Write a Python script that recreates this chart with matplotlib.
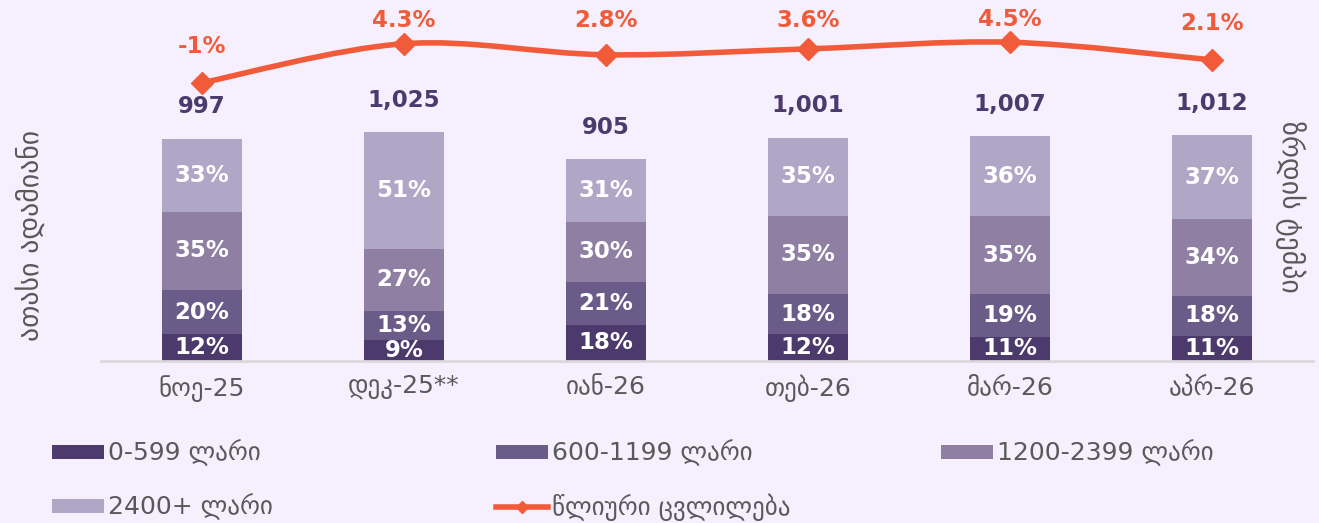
import numpy as np
import matplotlib
matplotlib.use("Agg")
import matplotlib.pyplot as plt
from matplotlib.path import Path
from matplotlib.patches import PathPatch, Patch
from matplotlib.lines import Line2D

months = ["ნოე-25", "დეკ-25**", "იან-26", "თებ-26", "მარ-26", "აპრ-26"]
totals = [997, 1025, 905, 1001, 1007, 1012]
growth = [-1.0, 4.3, 2.8, 3.6, 4.5, 2.1]
growth_labels = ["-1%", "4.3%", "2.8%", "3.6%", "4.5%", "2.1%"]
share_0_599 = [12, 9, 18, 12, 11, 11]
share_600_1199 = [20, 13, 21, 18, 19, 18]
share_1200_2399 = [35, 27, 30, 35, 35, 34]
share_2400 = [33, 51, 31, 35, 36, 37]
group_names = ["0-599 ლარი", "600-1199 ლარი", "1200-2399 ლარი", "2400+ ლარი"]
line_name = "წლიური ცვლილება"

bg = "#F5EFFE"
colors = ["#4B3A6B", "#6B5B88", "#8E7FA3", "#B0A6C6"]
orange = "#F15B3A"
grey = "#595959"

plt.rcParams["font.family"] = "DejaVu Sans"

W, H = 1319, 523
fig = plt.figure(figsize=(W / 100, H / 100), dpi=100, facecolor=bg)
ax = fig.add_axes([101 / W, 162 / H, 1212 / W, 346 / H])
ax.set_facecolor(bg)
x = np.arange(len(months))

shares = [share_0_599, share_600_1199, share_1200_2399, share_2400]
bottom = np.zeros(len(months))
for s, c in zip(shares, colors):
    h = np.array(totals) * np.array(s) / np.sum(shares, axis=0)
    ax.bar(x, h, bottom=bottom, width=0.4, color=c)
    for i in range(len(months)):
        ax.text(x[i], bottom[i] + h[i] / 2, f"{s[i]}%", ha="center", va="center",
                color="white", fontsize=16.5, fontweight="bold")
    bottom += h

for i, t in enumerate(totals):
    ax.annotate(f"{t:,}", (x[i], t), xytext=(0, 23), textcoords="offset points",
                ha="center", va="center", color="#4B3A6B", fontsize=16.5, fontweight="bold")

ax.set_xlim(-0.5, len(months) - 0.5)
ax.set_ylim(0, 1551)
ax.set_xticks(x)
ax.set_xticklabels(months, fontsize=18, color=grey)
ax.tick_params(axis="x", length=0, pad=10)
ax.set_yticks([])
for sp in ["top", "left", "right"]:
    ax.spines[sp].set_visible(False)
ax.spines["bottom"].set_color("#D9D9D9")
ax.spines["bottom"].set_linewidth(2)

ax2 = ax.twinx()
ax2.set_ylim(-38.8, 8.2)
ax2.set_yticks([])
for sp in ax2.spines.values():
    sp.set_visible(False)

# smooth line through the points (catmull-rom as bezier)
pts = np.column_stack([x, growth]).astype(float)
ext = np.vstack([pts[0], pts, pts[-1]])
verts = [tuple(pts[0])]
codes = [Path.MOVETO]
for i in range(len(pts) - 1):
    p0, p1, p2, p3 = ext[i], ext[i + 1], ext[i + 2], ext[i + 3]
    c1 = p1 + (p2 - p0) / 6
    c2 = p2 - (p3 - p1) / 6
    verts += [tuple(c1), tuple(c2), tuple(p2)]
    codes += [Path.CURVE4] * 3
ax2.add_patch(PathPatch(Path(verts, codes), fill=False, edgecolor=orange, lw=4, capstyle="round"))
ax2.plot(x, growth, ls="none", marker="D", ms=11, color=orange)

# labels sit above the markers but are kept inside the top of the chart
for i, g in enumerate(growth):
    ypix = ax2.transData.transform((x[i], g))[1]
    from_top = H - ypix
    off = min(36, from_top - 20) * 0.72
    ax2.annotate(growth_labels[i], (x[i], g), xytext=(0, off), textcoords="offset points",
                 ha="center", va="center", color=orange, fontsize=16.5, fontweight="bold",
                 annotation_clip=False)

fig.text(30 / W, 1 - 235 / H, "ათასი ადამიანი", rotation=90, ha="center", va="center",
         fontsize=20, color=grey)
fig.text(1290 / W, 1 - 207 / H, "ზრდის ტემპი", rotation=270, ha="center", va="center",
         fontsize=20, color=grey)

handles = [Patch(facecolor=c) for c in colors]
handles.append(Line2D([0], [0], color=orange, lw=4, marker="D", ms=6))
labels = group_names + [line_name]
pos = [(52, 453), (496, 453), (941, 453), (52, 507), (496, 507)]
for h, lab, (px, py) in zip(handles, labels, pos):
    fig.legend(handles=[h], labels=[lab], loc="center left",
               bbox_to_anchor=(px / W, 1 - py / H), frameon=False,
               borderpad=0, borderaxespad=0, handlelength=2.08, handleheight=0.48,
               handletextpad=0.16, fontsize=18, labelcolor=grey)

fig.savefig("out.png", dpi=100, facecolor=bg)
